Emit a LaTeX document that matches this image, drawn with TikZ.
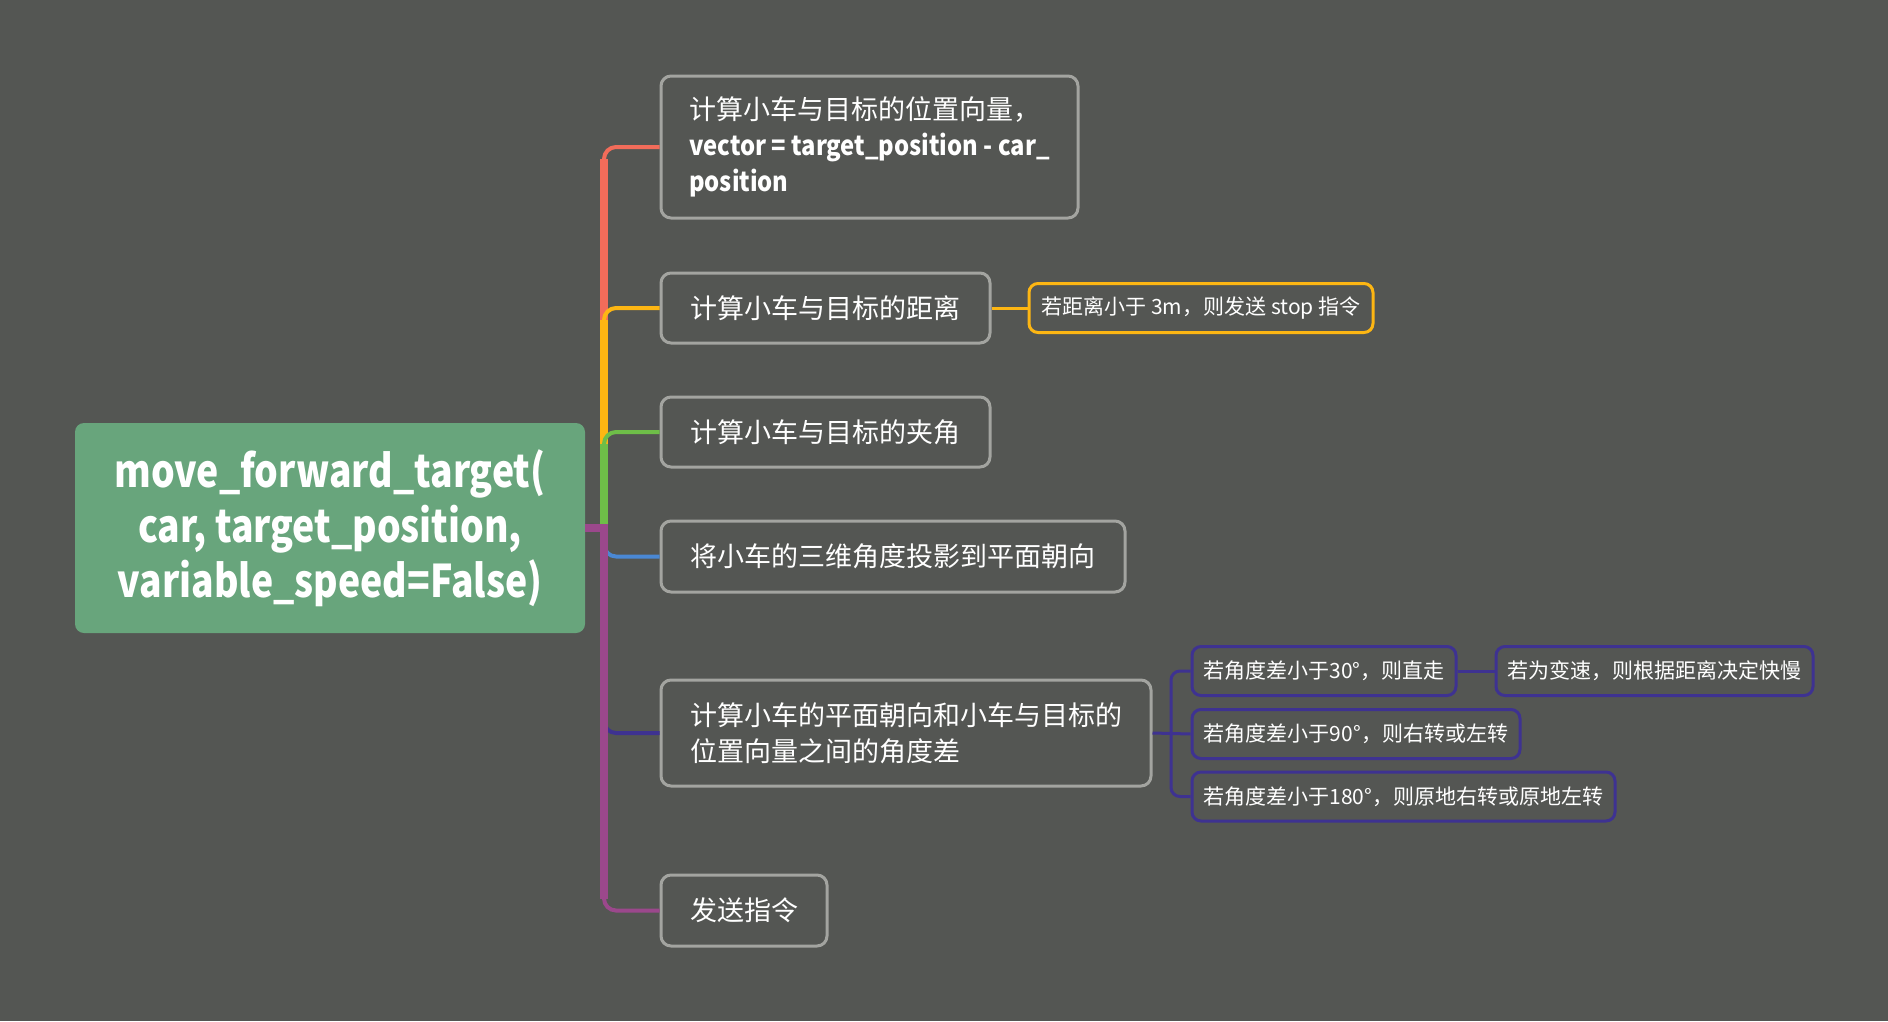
\documentclass[tikz,border=0pt]{standalone}
\usepackage{fontspec}
\setmainfont{Noto Sans CJK SC}
\newfontfamily\narrowfont[FakeStretch=0.83]{Noto Sans CJK SC}
\newfontfamily\latinfont[FakeStretch=0.88]{Noto Sans CJK SC}
\definecolor{bg}{RGB}{84,86,83}
\definecolor{rootfill}{RGB}{104,165,124}
\definecolor{boxline}{RGB}{163,164,160}
\definecolor{cred}{RGB}{242,108,90}
\definecolor{cyel}{RGB}{253,182,19}
\definecolor{cgreen}{RGB}{110,190,72}
\definecolor{cblue}{RGB}{74,136,212}
\definecolor{cindigo}{RGB}{62,50,145}
\definecolor{cmag}{RGB}{155,72,140}
\tikzset{
  rootbox/.style={fill=rootfill, rounded corners=9pt, text=white, align=center,
    font=\narrowfont\fontsize{45}{55}\selectfont\bfseries, inner sep=0pt,
    minimum width=510pt, minimum height=210pt},
  lone/.style={draw=boxline, line width=3pt, rounded corners=10pt, fill=bg, text=white,
    font=\fontsize{27}{36}\selectfont, inner sep=0pt, align=left},
  ltwo/.style={line width=3pt, rounded corners=9pt, fill=bg, text=white,
    font=\fontsize{21}{24}\selectfont, inner sep=0pt, minimum height=49pt},
  thin/.style={line width=4pt, rounded corners=12pt},
  thick/.style={line width=8pt},
  sub/.style={line width=3pt},
  subr/.style={line width=3pt, rounded corners=9pt}
}
\begin{document}
\begin{tikzpicture}[x=1pt,y=-1pt]
\fill[bg] (0,0) rectangle (1888,1021);
\useasboundingbox (0,0) rectangle (1888,1021);

% root
\node[rootbox] (root) at (330,528) {move\_forward\_target(\\car, target\_position,\\variable\_speed=False)};

% level 1
\node[lone, minimum width=417pt, minimum height=142pt] (b1) at (869.5,147)
  {计算小车与目标的位置向量，\\{\latinfont\bfseries vector = target\_position - car\_}\\{\latinfont\bfseries position}};
\node[lone, minimum width=329pt, minimum height=70pt] (b2) at (825.5,308) {计算小车与目标的距离};
\node[lone, minimum width=329pt, minimum height=70pt] (b3) at (825.5,432) {计算小车与目标的夹角};
\node[lone, minimum width=464pt, minimum height=71pt] (b4) at (893,556.5) {将小车的三维角度投影到平面朝向};
\node[lone, minimum width=490pt, minimum height=106pt] (b5) at (906,733) {计算小车的平面朝向和小车与目标的\\位置向量之间的角度差};
\node[lone, minimum width=166pt, minimum height=71pt] (b6) at (744,910.5) {发送指令};

% level 2
\node[ltwo, draw=cyel, minimum width=344pt] (s1) at (1201,308) {若距离小于 3m，则发送 stop 指令};
\node[ltwo, draw=cindigo, minimum width=264pt] (g1) at (1324,671) {若角度差小于30°，则直走};
\node[ltwo, draw=cindigo, minimum width=317pt] (g1c) at (1654.5,671) {若为变速，则根据距离决定快慢};
\node[ltwo, draw=cindigo, minimum width=328pt] (g2) at (1356,734) {若角度差小于90°，则右转或左转};
\node[ltwo, draw=cindigo, minimum width=423pt] (g3) at (1403.5,796.5) {若角度差小于180°，则原地右转或原地左转};

% trunk coordinates
\coordinate (tr) at (604,528);
\coordinate (ir) at (1171,733);

% upper branches
\draw[cred, thin] (tr) |- (b1.west);
\draw[cred, thick] (tr) -- ([yshift=-12pt]tr |- b1.west);
\draw[cyel, thin] (tr) |- (b2.west);
\draw[cyel, thick] (tr) -- ([yshift=-12pt]tr |- b2.west);
\draw[cgreen, thin] (tr) |- (b3.west);
\draw[cgreen, thick] (tr) -- ([yshift=-12pt]tr |- b3.west);
% lower branches
\draw[cblue, thin] (tr) |- (b4.west);
\draw[cindigo, thin] (tr) |- (b5.west);
\draw[cmag, thin] (tr) |- (b6.west);
\draw[cmag, thick] (tr) -- ([yshift=12pt]tr |- b6.west);
\draw[cmag, thick] (root.east) -- ([xshift=4pt]tr);

% level 2 connectors
\draw[cyel, sub] (b2.east) -- (s1.west);
\draw[cindigo, sub] (b5.east) -- (g2.west);
\draw[cindigo, subr] (ir) |- (g1.west);
\draw[cindigo, subr] (ir) |- (g3.west);
\draw[cindigo, sub] (g1.east) -- (g1c.west);
\end{tikzpicture}
\end{document}
